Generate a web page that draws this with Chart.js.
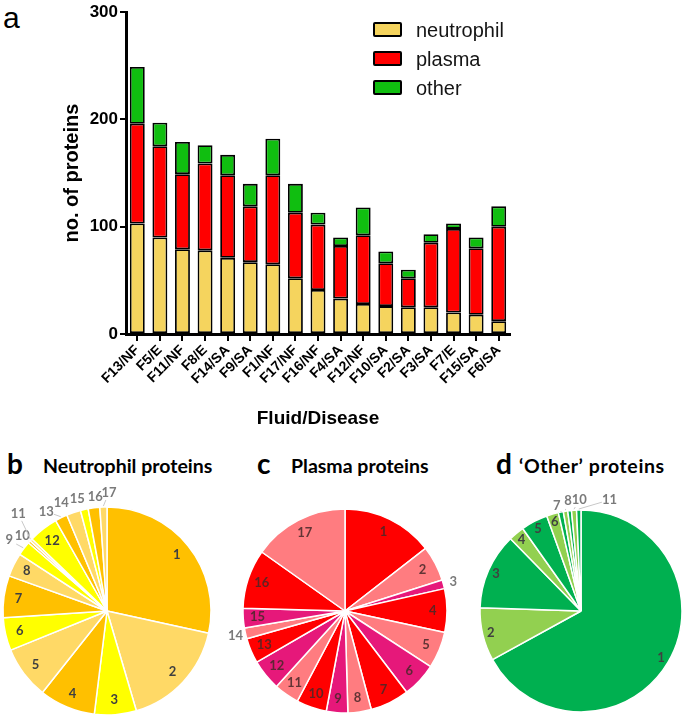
<!DOCTYPE html>
<html>
<head>
<meta charset="utf-8">
<script src="https://cdn.jsdelivr.net/npm/chart.js@4.4.1/dist/chart.umd.min.js"></script>
<style>
body { margin: 0; width: 685px; height: 721px; position: relative; overflow: hidden; background: #fff; }
canvas { position: absolute; }
.txt { position: absolute; white-space: nowrap; line-height: 1; color: #000; }
.arial { font-family: 'Liberation Sans', Arial, sans-serif; }
.cal { font-family: Lato, 'Open Sans', sans-serif; font-weight: 700; }
.box { position: absolute; width: 25px; height: 11px; border: 2px solid #000; border-radius: 2px; }
</style>
</head>
<body>
<div class="txt arial" style="left:3px;top:3px;font-size:30px">a</div>
<canvas id="bars" width="685" height="440" style="left:0;top:0"></canvas>
<div id="legend"></div>

<div class="txt cal" style="left:7px;top:449px;font-size:28px">b</div>
<div class="txt cal" style="left:43px;top:456px;font-size:19.5px">Neutrophil proteins</div>
<div class="txt cal" style="left:257px;top:449px;font-size:28px">c</div>
<div class="txt cal" style="left:291px;top:456px;font-size:19.5px">Plasma proteins</div>
<div class="txt cal" style="left:496px;top:449px;font-size:28px">d</div>
<div class="txt cal" style="left:519px;top:456px;font-size:19.5px;letter-spacing:0.6px">‘Other’ proteins</div>

<canvas id="pieB" width="260" height="260" style="left:-23px;top:481px"></canvas>
<canvas id="pieC" width="260" height="260" style="left:215px;top:481px"></canvas>
<canvas id="pieD" width="260" height="260" style="left:451px;top:481px"></canvas>

<script>
// panel a: proteins per fluid
const categories = ['F13/NF', 'F5/E', 'F11/NF', 'F8/E', 'F14/SA', 'F9/SA', 'F1/NF', 'F17/NF', 'F16/NF',
  'F4/SA', 'F12/NF', 'F10/SA', 'F2/SA', 'F3/SA', 'F7/E', 'F15/SA', 'F6/SA'];
const neutrophil = [103, 90, 79, 78, 71, 67, 65, 52, 41, 33, 28, 26, 25, 25, 20, 18, 12];
const plasma = [93, 85, 70, 81, 77, 52, 83, 61, 61, 49, 64, 40, 27, 60, 78, 62, 88];
const other = [53, 22, 30, 17, 19, 21, 34, 27, 11, 8, 26, 11, 8, 8, 5, 10, 19];
const yTicks = [0, 100, 200, 300];

// panels b-d: share of each protein group (%)
const neutrophilShares = [28.4, 17.0, 6.5, 8.7, 8.2, 5.1, 6.5, 3.7, 2.2, 0.4, 0.4, 4.6, 1.9, 2.2, 1.2, 1.8, 1.1];
const plasmaShares = [14.5, 5.6, 1.4, 6.9, 5.8, 5.5, 6.2, 3.7, 3.4, 4.8, 4.0, 4.9, 4.0, 1.7, 3.1, 9.4, 15.2];
const otherShares = [67.0, 8.5, 12.2, 2.5, 4.3, 1.9, 0.8, 0.7, 0.6, 0.8, 0.7];

const arial = "'Liberation Sans', Arial, sans-serif";
const groups = [
  { label: 'neutrophil', data: neutrophil, color: '#F5D45E' },
  { label: 'plasma', data: plasma, color: '#FF0000' },
  { label: 'other', data: other, color: '#10BE10' }
];

new Chart(document.getElementById('bars'), {
  type: 'bar',
  data: {
    labels: categories,
    datasets: groups.map(g => ({
      label: g.label,
      data: g.data,
      backgroundColor: g.color,
      borderColor: '#000',
      borderWidth: 1.8,
      borderSkipped: false,
      barPercentage: 0.66,
      categoryPercentage: 1
    }))
  },
  options: {
    responsive: false,
    animation: false,
    layout: { padding: { left: 56, right: 175, top: 10, bottom: 0 } },
    plugins: { legend: { display: false }, tooltip: { enabled: false } },
    scales: {
      x: {
        stacked: true,
        grid: { drawOnChartArea: false, offset: false, tickLength: 7, color: '#000', lineWidth: 2 },
        border: { color: '#000', width: 3 },
        ticks: { minRotation: 45, maxRotation: 45, autoSkip: false, color: '#000', padding: 1,
          font: { family: arial, weight: 'bold', size: 14 } },
        title: { display: true, text: 'Fluid/Disease', color: '#000',
          font: { family: arial, weight: 'bold', size: 19 }, padding: { top: 4, bottom: 10 } },
        afterFit(s) { s.height = 106; }
      },
      y: {
        stacked: true,
        min: 0,
        max: 300,
        afterBuildTicks(s) { s.ticks = yTicks.map(v => ({ value: v })); },
        grid: { drawOnChartArea: false, tickLength: 6, color: '#000', lineWidth: 2 },
        border: { color: '#000', width: 3 },
        ticks: { color: '#000', padding: 2, font: { family: arial, weight: 'bold', size: 17 } },
        title: { display: true, text: 'no. of proteins', color: '#000',
          font: { family: arial, weight: 'bold', size: 20 }, padding: { top: 4 } },
        afterFit(s) { s.width = 70; }
      }
    }
  }
});

// legend for panel a
const legend = document.getElementById('legend');
groups.forEach((g, i) => {
  const top = 22 + i * 29;
  legend.insertAdjacentHTML('beforeend',
    `<div class="box" style="left:373px;top:${top}px;background:${g.color}"></div>` +
    `<div class="txt arial" style="left:416px;top:${top - 2}px;font-size:20px;color:#151515">${g.label}</div>`);
});

// numbers on / beside the pie slices
const sliceLabels = {
  id: 'sliceLabels',
  afterDatasetsDraw(chart, args, o) {
    const ctx = chart.ctx;
    const meta = chart.getDatasetMeta(0);
    ctx.save();
    ctx.textAlign = 'center';
    ctx.textBaseline = 'middle';
    meta.data.forEach((arc, i) => {
      if (o.hide.includes(i)) return;
      const p = arc.getProps(['x', 'y', 'startAngle', 'endAngle', 'outerRadius'], true);
      const mid = (p.startAngle + p.endAngle) / 2;
      const out = o.outside.includes(i);
      const k = out ? o.outR : o.inR;
      const nd = o.nudge[i] || [0, 0];
      const tx = p.x + Math.cos(mid) * p.outerRadius * k + nd[0];
      const ty = p.y + Math.sin(mid) * p.outerRadius * k + nd[1];
      if (out && o.lines.includes(i)) {
        const ex = p.x + Math.cos(mid) * (p.outerRadius + 1);
        const ey = p.y + Math.sin(mid) * (p.outerRadius + 1);
        const d = Math.hypot(ex - tx, ey - ty);
        ctx.strokeStyle = '#c8c8c8';
        ctx.lineWidth = 1;
        ctx.beginPath();
        ctx.moveTo(ex, ey);
        ctx.lineTo(tx + (ex - tx) / d * 8, ty + (ey - ty) / d * 8);
        ctx.stroke();
      }
      ctx.font = "bold 13px Lato, sans-serif";
      ctx.fillStyle = out ? '#7a7a7a' : o.inColor;
      ctx.fillText(chart.data.labels[i], tx, ty);
    });
    ctx.restore();
  }
};

function makePie(id, values, palette, radius, labelOpts) {
  new Chart(document.getElementById(id), {
    type: 'pie',
    data: {
      labels: values.map((v, i) => String(i + 1)),
      datasets: [{
        data: values,
        backgroundColor: values.map((v, i) => palette[i % palette.length]),
        borderColor: '#fff',
        borderWidth: 1.5,
        radius: radius,
        hoverOffset: 0
      }]
    },
    options: {
      responsive: false,
      animation: false,
      plugins: {
        legend: { display: false },
        tooltip: { enabled: false },
        sliceLabels: Object.assign({ hide: [], outside: [], lines: [], nudge: {}, inColor: '#404040' }, labelOpts)
      }
    },
    plugins: [sliceLabels]
  });
}

makePie('pieB', neutrophilShares, ['#FFC000', '#FFD966', '#FFFF00'], 104, {
  inR: 0.86, outR: 1.13,
  outside: [8, 9, 10, 12, 13, 14, 15, 16],
  lines: [8, 9, 10, 12, 16],
  nudge: { 8: [-4, 0], 9: [3, 3], 10: [-3, -17], 12: [-9, 6], 13: [-8, 3], 14: [-4, 2], 15: [3, 2], 16: [6, -1] }
});
makePie('pieC', plasmaShares, ['#FF0000', '#FF7C80', '#E6187A'], 102, {
  inR: 0.86, outR: 1.1, outside: [2, 13], inColor: 'rgba(70,40,40,0.85)'
});
makePie('pieD', otherShares, ['#00B050', '#92D050'], 101, {
  inR: 0.92, outR: 1.1,
  outside: [6, 7, 9, 10], lines: [6, 7, 9, 10], hide: [8],
  nudge: { 6: [-2, 4], 7: [4, 0], 9: [6, 0], 10: [31, 0] }
});
</script>
</body>
</html>
